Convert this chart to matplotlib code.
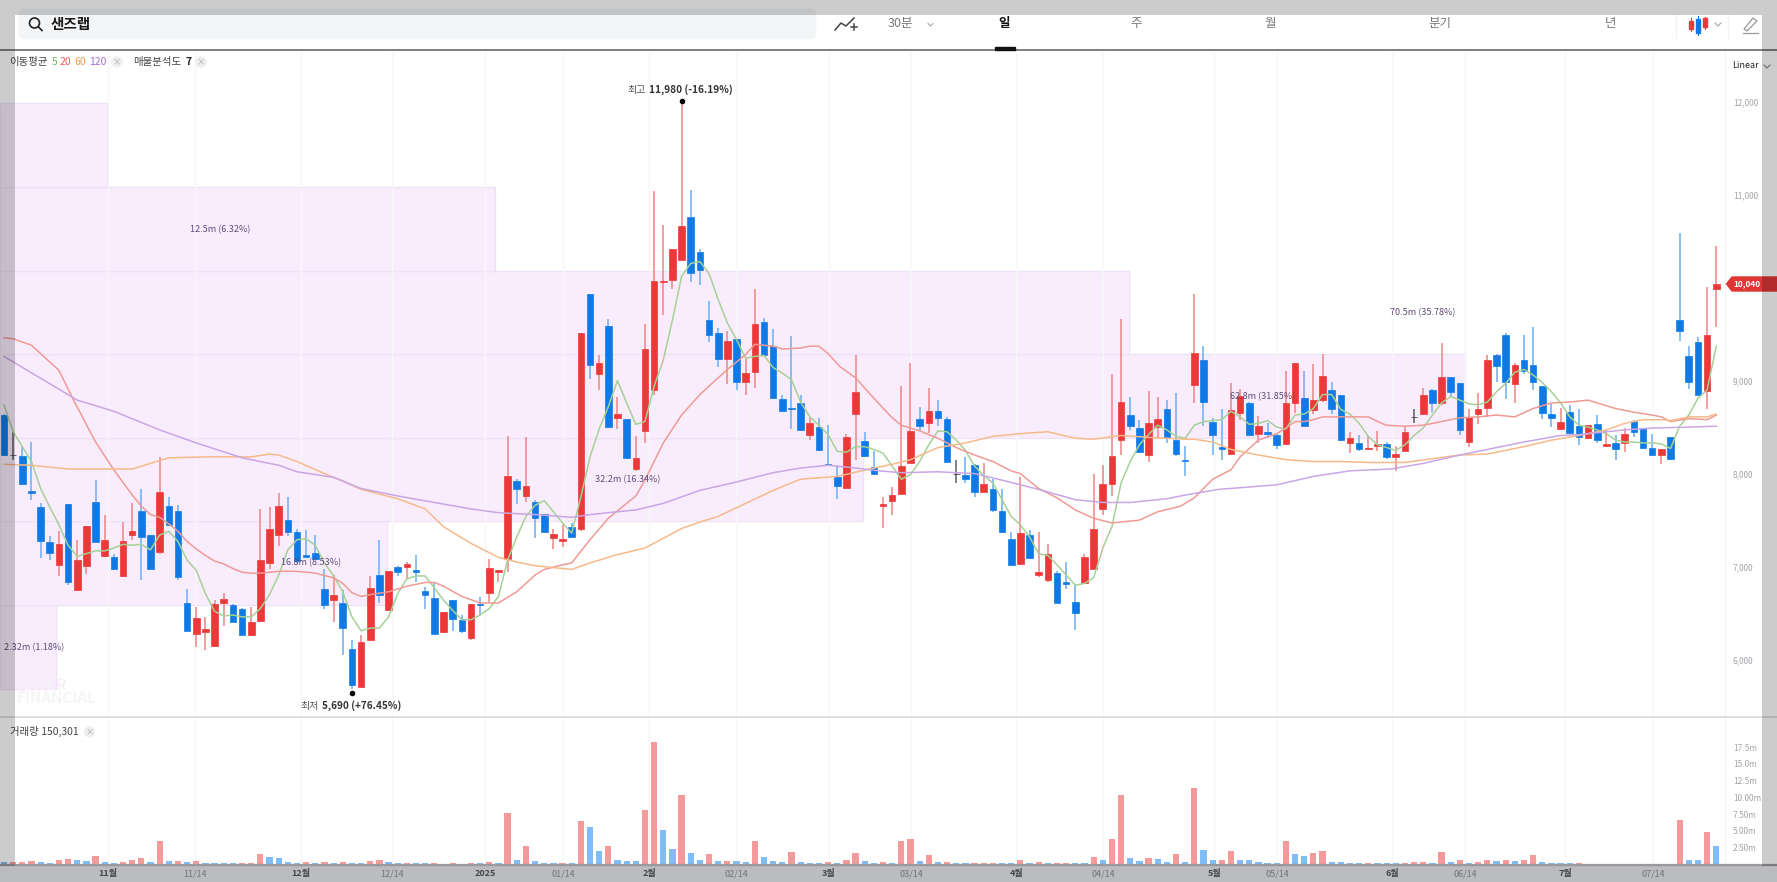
import matplotlib
matplotlib.use("Agg")
import matplotlib.pyplot as plt
from matplotlib.patches import Rectangle, Circle, FancyBboxPatch, Polygon

plt.rcParams["font.family"] = ["Noto Sans CJK KR", "DejaVu Sans"]

# candle values (won)
body_top = [
    8630, 8200, 8190, 7810, 7640, 7270, 7240, 7670, 7070, 7440,
    7700, 7290, 7100, 7280, 7380, 7600, 7340, 7800, 7650, 7600,
    6610, 6450, 6330, 6600, 6650, 6590, 6550, 6410, 7070, 7400,
    7650, 7500, 7370, 7130, 7150, 6760, 6700, 6610, 6110, 6190,
    6770, 6910, 6950, 7000, 7030, 6960, 6740, 6660, 6510, 6640,
    6430, 6600, 6600, 6990, 6960, 7970, 7920, 7870, 7700, 7570,
    7350, 7300, 7430, 9510, 9930, 9190, 9590, 8640, 8590, 8170,
    9340, 10070, 10070, 10420, 10660, 10760, 10380, 9650, 9510, 9430,
    9450, 9080, 9610, 9630, 9370, 8800, 8710, 8760, 8540, 8500,
    8100, 7960, 8390, 8880, 8350, 8070, 7670, 7770, 8080, 8460,
    8590, 8670, 8670, 8590, 8000, 7990, 8090, 7890, 7840, 7600,
    7300, 7360, 7340, 6940, 7140, 6930, 6830, 6620, 7100, 7410,
    7890, 8190, 8770, 8630, 8490, 8540, 8590, 8690, 8360, 8150,
    9300, 9220, 8560, 8290, 8680, 8830, 8760, 8510, 8450, 8420,
    8760, 9190, 8810, 8790, 9050, 8900, 8840, 8380, 8330, 8280,
    8320, 8320, 8210, 8450, 8610, 8850, 8900, 9040, 9040, 8970,
    8610, 8700, 9220, 9280, 9490, 9170, 9220, 9170, 8940, 8640,
    8550, 8660, 8510, 8520, 8530, 8320, 8330, 8430, 8570, 8490,
    8280, 8260, 8390, 9650, 9260, 9420, 9490, 10040,
]
body_bot = [
    8200, 8200, 7890, 7790, 7280, 7150, 7020, 6830, 6750, 7010,
    7270, 7110, 6970, 6900, 7340, 7320, 6980, 7160, 7450, 6890,
    6310, 6280, 6300, 6150, 6610, 6410, 6270, 6260, 6420, 7040,
    7340, 7370, 7060, 7100, 7080, 6590, 6640, 6340, 5730, 5710,
    6210, 6690, 6530, 6940, 7000, 6940, 6690, 6280, 6300, 6440,
    6310, 6230, 6590, 6720, 6940, 7080, 7830, 7760, 7520, 7370,
    7310, 7280, 7320, 7410, 9170, 9070, 8500, 8600, 8170, 8050,
    8460, 8900, 10060, 10080, 10300, 10160, 10190, 9490, 9230, 9230,
    8980, 8980, 9090, 9280, 8810, 8670, 8700, 8470, 8410, 8250,
    8090, 7870, 7850, 8640, 8190, 8000, 7650, 7710, 7780, 8110,
    8510, 8540, 8600, 8130, 8000, 7940, 7800, 7800, 7610, 7370,
    7020, 7030, 7090, 6910, 6860, 6610, 6810, 6500, 6820, 6970,
    7620, 7890, 8360, 8510, 8230, 8200, 8500, 8380, 8210, 8140,
    8950, 8770, 8410, 8270, 8210, 8650, 8420, 8430, 8430, 8310,
    8320, 8760, 8510, 8680, 8790, 8700, 8360, 8330, 8260, 8270,
    8300, 8180, 8180, 8240, 8610, 8640, 8760, 8760, 8880, 8470,
    8340, 8640, 8710, 9160, 8990, 8960, 9100, 8990, 8650, 8600,
    8480, 8440, 8390, 8380, 8360, 8300, 8270, 8330, 8450, 8280,
    8200, 8200, 8160, 9530, 8980, 8840, 8890, 9990,
]
wick_high = [
    8640, 8450, 8290, 8340, 7680, 7330, 7380, 7670, 7290, 7440,
    7930, 7560, 7140, 7480, 7680, 7830, 7340, 8180, 7750, 7660,
    6760, 6570, 6460, 6640, 6720, 6600, 6560, 6570, 7620, 7640,
    7790, 7750, 7410, 7390, 7340, 6970, 6910, 6750, 6210, 6260,
    6900, 7290, 6950, 7010, 7050, 7120, 6780, 6820, 6510, 6640,
    6480, 6600, 6670, 7080, 6960, 8400, 7940, 8390, 7720, 7570,
    7410, 7450, 7470, 9510, 9930, 9280, 9660, 8820, 8590, 8400,
    9610, 11040, 10670, 10420, 11980, 11050, 10410, 9860, 9570, 9530,
    9450, 9240, 9990, 9670, 9550, 8850, 9480, 8850, 8600, 8600,
    8520, 8080, 8430, 9270, 8450, 8240, 7750, 7860, 8940, 9190,
    8720, 8920, 8790, 8610, 8150, 8180, 8100, 8110, 7940, 7830,
    7370, 7960, 7390, 7370, 7240, 6950, 7050, 6800, 7140, 8000,
    8090, 9070, 9660, 8820, 8580, 8890, 8820, 8790, 8870, 8300,
    9930, 9370, 8600, 8700, 8970, 8910, 8770, 8620, 8540, 8430,
    9100, 9190, 9100, 9180, 9290, 8990, 8840, 8450, 8420, 8400,
    8460, 8340, 8300, 8510, 8700, 8920, 8910, 9400, 9040, 8970,
    8690, 8870, 9270, 9290, 9510, 9190, 9490, 9580, 8940, 8750,
    8710, 8740, 8700, 8520, 8630, 8470, 8420, 8490, 8580, 8490,
    8430, 8260, 8390, 10590, 9370, 9470, 10010, 10450,
]
wick_low = [
    8190, 8150, 7880, 7720, 7090, 7070, 6900, 6800, 6750, 6920,
    7270, 7100, 6960, 6890, 7290, 6860, 6970, 7140, 7450, 6860,
    6310, 6140, 6100, 6140, 6360, 6410, 6260, 6250, 6410, 6970,
    7220, 7330, 7040, 7090, 7070, 6540, 6410, 6050, 5690, 5710,
    6210, 6610, 6520, 6900, 6870, 6840, 6550, 6280, 6290, 6310,
    6290, 6210, 6480, 6620, 6840, 6940, 7670, 7700, 7310, 7370,
    7190, 7210, 7320, 7380, 9020, 8900, 8490, 8480, 8160, 8030,
    8330, 8840, 9700, 9990, 10300, 10060, 10030, 9410, 9150, 8960,
    8900, 8850, 8920, 9270, 8810, 8660, 8480, 8460, 8360, 8240,
    8080, 7730, 7850, 8150, 8180, 7990, 7420, 7560, 7780, 8110,
    8460, 8440, 8510, 8120, 7900, 7900, 7750, 7800, 7590, 7360,
    7010, 7020, 7080, 6890, 6840, 6610, 6760, 6320, 6820, 6970,
    7560, 7760, 8200, 8470, 8220, 8130, 8370, 8330, 8190, 7970,
    8760, 8510, 8200, 8150, 8210, 8580, 8410, 8330, 8380, 8270,
    8320, 8650, 8510, 8640, 8770, 8640, 8350, 8220, 8240, 8260,
    8240, 8160, 8030, 8240, 8540, 8630, 8660, 8740, 8830, 8410,
    8290, 8530, 8610, 8990, 8800, 8760, 9070, 8900, 8590, 8500,
    8470, 8430, 8310, 8380, 8330, 8290, 8150, 8230, 8390, 8270,
    8200, 8100, 8150, 9430, 8910, 8840, 8700, 9580,
]
candle_dir = (
    "bkbbbbrbrr" "brbrrbbrbb" "brrrrbbrrr" "rbbbbbrbbr" "rbrbrbbbrb"
    "brbrrrbrbb" "rrbrbrbrbr" "rrrrrbbbbr" "brrbbbbbrb" "bbrrbbrrrr"
    "brbbkbbrbb" "brbrrbbbrr" "rrrbbrrbbb" "rbbbrrbrbb" "rrbrrbbrbr"
    "rbrrkrbrbb" "rrrbbrbbbb" "rbbrbrbrbb" "brbbbbrr"
)

ma5 = [
    8740, 8450, 8290, 8130, 7840, 7640, 7450, 7230, 7110, 7140,
    7170, 7170, 7200, 7240, 7230, 7240, 7180, 7340, 7380, 7270,
    7070, 6960, 6710, 6520, 6470, 6480, 6460, 6460, 6550, 6700,
    6910, 7180, 7290, 7300, 7230, 7040, 6900, 6730, 6460, 6310,
    6340, 6340, 6460, 6710, 6870, 6900, 6900, 6770, 6640, 6530,
    6430, 6430, 6480, 6550, 6680, 7070, 7320, 7540, 7660, 7710,
    7590, 7470, 7360, 7750, 8180, 8480, 8720, 9000, 8760, 8530,
    8560, 8940, 9220, 9650, 10120, 10260, 10280, 10150, 9870, 9620,
    9440, 9240, 9260, 9270, 9140, 9080, 9010, 8770, 8610, 8520,
    8420, 8240, 8230, 8290, 8290, 8260, 8220, 8080, 7940, 7990,
    8130, 8310, 8460, 8450, 8360, 8250, 8080, 7980, 7900, 7720,
    7540, 7450, 7320, 7140, 7120, 7020, 6910, 6800, 6820, 6880,
    7200, 7430, 7900, 8130, 8310, 8420, 8520, 8470, 8400, 8380,
    8520, 8560, 8570, 8580, 8670, 8610, 8530, 8540, 8570, 8500,
    8480, 8630, 8640, 8700, 8850, 8850, 8690, 8640, 8540, 8400,
    8310, 8280, 8250, 8310, 8410, 8490, 8630, 8760, 8830, 8790,
    8750, 8740, 8770, 8880, 8970, 9090, 9120, 9060, 8980, 8880,
    8760, 8610, 8520, 8500, 8470, 8430, 8360, 8340, 8340, 8330,
    8330, 8320, 8270, 8510, 8630, 8810, 8900, 9370,
]
ma20_idx = [
    0, 1, 3, 6, 7.6, 10, 12, 14, 15, 16, 17, 18, 19, 20, 21, 22, 23, 24, 25, 26,
    27, 28, 30, 32, 34, 36, 37, 38, 39, 40, 42, 44, 46, 47, 48, 50, 52, 54, 56, 58,
    59, 61, 62, 64, 66, 69, 70, 72, 74, 76, 79, 81, 82, 84, 85, 87, 88, 89, 90, 91.3,
    93, 95, 97, 98, 100, 102, 104, 106, 108, 110, 111, 113, 115, 117, 119, 121, 123, 124, 126, 128.5,
    130, 132, 134, 135, 137, 139, 140, 141, 142, 143, 144, 146, 149, 150, 151, 153, 155, 157, 159, 161,
    163, 165, 167, 169, 171, 173, 174, 176, 178, 180, 181, 182, 184, 186, 187,
]
ma20_val = [
    9460, 9450, 9380, 9110, 8790, 8340, 8040, 7770, 7650, 7560, 7530, 7460, 7380, 7270, 7190, 7120, 7060, 7030, 6980, 6940,
    6930, 6930, 6950, 6950, 6930, 6880, 6820, 6720, 6680, 6700, 6730, 6790, 6830, 6830, 6790, 6680, 6610, 6610, 6730, 6910,
    6970, 7020, 7040, 7290, 7520, 7760, 7930, 8330, 8630, 8850, 9120, 9280, 9390, 9370, 9340, 9350, 9370, 9370, 9290, 9150,
    9030, 8810, 8600, 8520, 8460, 8380, 8280, 8200, 8130, 8030, 8000, 7840, 7740, 7610, 7520, 7470, 7490, 7500, 7590, 7650,
    7740, 7940, 8040, 8180, 8360, 8430, 8490, 8560, 8560, 8580, 8610, 8610, 8610, 8560, 8520, 8510, 8520, 8560, 8600, 8610,
    8630, 8610, 8700, 8760, 8770, 8790, 8760, 8700, 8660, 8630, 8610, 8560, 8590, 8580, 8630,
]
ma60_idx = [
    0, 3, 7, 12, 14, 16, 18, 22, 25, 27, 29, 30, 32, 35, 37, 39, 43, 46, 48, 51,
    54, 56, 58, 62, 64, 67, 70, 74, 76, 78, 81, 84, 87, 91, 95, 97, 99, 102, 105, 108,
    111, 114, 117, 119, 122, 125, 129, 130, 132, 134, 137, 140, 143, 146, 149, 153, 156, 159, 162, 166,
    169, 172, 175, 177, 179, 181, 182, 184, 186, 187,
]
ma60_val = [
    8100, 8090, 8050, 8050, 8050, 8110, 8170, 8180, 8180, 8180, 8210, 8200, 8130, 8000, 7920, 7830, 7730, 7620, 7430, 7250,
    7100, 7050, 7010, 6970, 7040, 7130, 7200, 7410, 7480, 7540, 7680, 7820, 7940, 7970, 8060, 8100, 8150, 8280, 8330, 8400,
    8430, 8450, 8380, 8370, 8410, 8390, 8370, 8370, 8340, 8260, 8200, 8150, 8130, 8130, 8120, 8120, 8160, 8200, 8210, 8290,
    8360, 8410, 8470, 8540, 8580, 8580, 8570, 8610, 8610, 8640,
]
ma120_idx = [
    0, 8, 12, 17, 21, 26, 30, 32, 36, 39, 43, 47, 51, 54, 58, 62, 64, 69, 72, 76,
    80, 84, 87, 90, 93, 95.6, 98, 102, 106, 109, 113, 117, 120, 123, 127, 129, 132.6, 139, 143, 147,
    151.5, 155, 159, 162, 166, 170, 172, 177, 180, 184, 187,
]
ma120_val = [
    9260, 8790, 8670, 8470, 8330, 8170, 8090, 8020, 7960, 7840, 7760, 7690, 7620, 7580, 7560, 7530, 7560, 7610, 7680, 7820,
    7910, 8010, 8060, 8090, 8060, 8030, 8010, 8020, 8000, 7930, 7830, 7720, 7690, 7690, 7730, 7770, 7830, 7880, 7970, 8030,
    8050, 8110, 8200, 8260, 8340, 8410, 8420, 8470, 8490, 8500, 8510,
]

# volume in millions of shares
volume = [
    0.35, 0.35, 0.35, 0.45, 0.3, 0.25, 0.6, 0.75, 0.6, 0.45,
    1.3, 0.3, 0.2, 0.35, 0.6, 1.0, 0.3, 3.45, 0.45, 0.45,
    0.35, 0.45, 0.2, 0.2, 0.2, 0.2, 0.2, 0.2, 1.55, 1.1,
    1.0, 0.35, 0.2, 0.35, 0.2, 0.35, 0.2, 0.35, 0.2, 0.2,
    0.45, 0.6, 0.35, 0.2, 0.2, 0.2, 0.2, 0.2, 0.1, 0.2,
    0.1, 0.2, 0.2, 0.35, 0.2, 7.6, 0.6, 2.8, 0.45, 0.2,
    0.2, 0.2, 0.2, 6.5, 5.6, 2.05, 2.75, 0.6, 0.45, 0.45,
    8.1, 18.2, 5.15, 2.3, 10.3, 1.65, 0.6, 1.55, 0.45, 0.45,
    0.45, 0.3, 3.55, 1.1, 0.45, 0.3, 1.8, 0.3, 0.2, 0.2,
    0.35, 0.2, 0.7, 1.65, 0.45, 0.2, 0.35, 0.2, 3.45, 3.85,
    0.45, 1.4, 0.3, 0.35, 0.2, 0.2, 0.2, 0.2, 0.2, 0.2,
    0.2, 0.6, 0.2, 0.35, 0.2, 0.2, 0.2, 0.2, 0.2, 1.1,
    0.7, 3.85, 10.4, 1.0, 0.45, 1.0, 0.85, 0.3, 1.55, 0.3,
    11.4, 2.15, 0.65, 0.7, 2.05, 0.7, 0.6, 0.3, 0.15, 0.15,
    3.55, 1.5, 1.25, 1.65, 1.95, 0.4, 0.3, 0.15, 0.15, 0.15,
    0.15, 0.15, 0.15, 0.15, 0.3, 0.3, 0.15, 1.8, 0.3, 0.6,
    0.15, 0.3, 0.7, 0.45, 0.6, 0.45, 0.7, 1.4, 0.3, 0.15,
    0.15, 0.15, 0.15, 0, 0, 0, 0, 0, 0, 0,
    0, 0, 0, 6.55, 0.7, 0.6, 4.8, 2.75,
]
volume_dir = (
    "brrrbbrrbb" "rbbrrrbrbr" "brbbbbrrrb" "bbbrbrbrbb" "rrbbrbbrrr"
    "brbrbrbrbb" "brbrbbrbbb" "rrbbrbbrbr" "bbrbbbrbbb" "rbrrbbrbrr"
    "brbrbbrrrb" "brbrbrrbbr" "brrbbrbbrb" "rbbrrbbbbb" "rbbrrbbbbr"
    "bbbrrrbrbr" "brrbrbrrbb" "bbrbbbbbbb" "bbbrbbrb"
)

# volume by price rows
profile_edges = [5690, 6589, 7487, 8386, 9284, 10183, 11081, 11980]
profile_end = [5.65, 41.8, 93.8, 159.6, 122.9, 53.6, 11.3]

month_pos = [11.36, 20.86, 32.44, 42.38, 52.54, 61.06, 70.45, 79.96, 90.1, 99.07,
             110.54, 120.04, 132.2, 139.05, 151.6, 159.6, 170.5, 180.1]
month_lab = ["11월", "11/14", "12월", "12/14", "2025", "01/14", "2월", "02/14", "3월", "03/14",
             "4월", "04/14", "5월", "05/14", "6월", "06/14", "7월", "07/14"]
# the 10,000 label sits behind the last price tag
price_ticks = [6000, 7000, 8000, 9000, 11000, 12000]
vol_ticks = [2.5, 5, 7.5, 10, 12.5, 15, 17.5]
vol_tick_lab = ["2.50m", "5.00m", "7.50m", "10.00m", "12.5m", "15.0m", "17.5m"]

W, H = 1777, 882
RED, BLUE = "#ec3838", "#0f7ae5"
WICK = {"r": "#f08c8c", "b": "#74b4f4", "k": "#6a6a6a"}
BODY = {"r": RED, "b": BLUE, "k": "#333333"}
VOLC = {"r": "#f59a9a", "b": "#80bcf7"}

fig = plt.figure(figsize=(W / 100, H / 100), dpi=100)
fig.add_artist(Rectangle((0, 0), 1, 16 / H, transform=fig.transFigure, color="#e9ecf1", zorder=-1))

x_lim = (-0.437, 187.9)
ax = fig.add_axes([0, 1 - 716.7 / H, 1724.5 / W, 666.7 / H])
ax.set_xlim(*x_lim)
ax.set_ylim(5387, 12554)

idx = list(range(len(body_top)))
for i in range(len(profile_end)):
    ax.barh(profile_edges[i], profile_end[i] - x_lim[0], height=profile_edges[i + 1] - profile_edges[i],
            left=x_lim[0], align="edge", color="#f9edfd", edgecolor="#efe2f6", linewidth=1, zorder=1)

ax.vlines(idx, wick_low, wick_high, colors=[WICK[d] for d in candle_dir], linewidth=1.2, zorder=3)
ax.bar(idx, [t - b for t, b in zip(body_top, body_bot)], bottom=body_bot, width=0.72,
       color=[BODY[d] for d in candle_dir], edgecolor=[BODY[d] for d in candle_dir], linewidth=0.5, zorder=4)

ax.plot(idx, ma5, color="#a5d196", linewidth=1.1, zorder=5)
ax.plot(ma20_idx, ma20_val, color="#f09a94", linewidth=1.1, zorder=5)
ax.plot(ma60_idx, ma60_val, color="#f6ba8a", linewidth=1.1, zorder=5)
ax.plot(ma120_idx, ma120_val, color="#c9a6e4", linewidth=1.1, zorder=5)

# high / low dots
ax.plot([74], [wick_high[74] + 30], "o", color="black", markersize=3, zorder=6)
ax.plot([38], [wick_low[38] - 45], "o", color="black", markersize=3, zorder=6)

ax.set_xticks(month_pos)
ax.tick_params(axis="x", length=0, labelbottom=False)
ax.grid(axis="x", color="#f7f7f9", linewidth=1)
ax.yaxis.tick_right()
ax.set_yticks(price_ticks)
ax.set_yticklabels([f"{p:,}" for p in price_ticks])
ax.tick_params(axis="y", length=0, pad=6, labelsize=6, labelcolor="#a2a5a9")
for s in ["top", "left", "bottom"]:
    ax.spines[s].set_visible(False)
ax.spines["right"].set_color("#f4f4f6")

vax = fig.add_axes([0, 1 - 864.3 / H, 1724.5 / W, 147.6 / H])
vax.set_xlim(*x_lim)
vax.set_ylim(0, 22.05)
vax.bar(idx, volume, width=0.68, color=[VOLC[d] for d in volume_dir], zorder=3)
vax.set_xticks(month_pos)
vax.set_xticklabels(month_lab)
vax.tick_params(axis="x", length=0, pad=3.5, labelsize=6.5, labelcolor="#8d9095")
for lab in vax.get_xticklabels():
    if "/" not in lab.get_text():
        lab.set_fontweight("bold")
        lab.set_color("#55585c")
vax.grid(axis="x", color="#f7f7f9", linewidth=1)
vax.yaxis.tick_right()
vax.set_yticks(vol_ticks)
vax.set_yticklabels(vol_tick_lab)
vax.tick_params(axis="y", length=0, pad=6, labelsize=6, labelcolor="#a2a5a9")
for s in ["top", "left", "bottom"]:
    vax.spines[s].set_visible(False)
vax.spines["right"].set_color("#f4f4f6")

# page furniture, in pixels
ui = fig.add_axes([0, 0, 1, 1], zorder=10)
ui.set_xlim(0, W)
ui.set_ylim(H, 0)
ui.axis("off")

ui.add_patch(FancyBboxPatch((20, 10), 795, 28, boxstyle="round,pad=0,rounding_size=5", color="#f3f5f7", linewidth=2))
ui.add_patch(Circle((34.5, 23), 5, fill=False, edgecolor="#222222", linewidth=1.2))
ui.plot([38.2, 42], [26.7, 30.5], color="#222222", linewidth=1.2)
ui.text(51, 24, "샌즈랩", fontsize=10.5, fontweight="bold", color="#1a1a1a", va="center")

# chart type icon
ui.plot([835, 841, 846, 854], [30, 23, 26, 18], color="#444444", linewidth=1.1)
ui.plot([851, 857], [27, 27], color="#444444", linewidth=1.1)
ui.plot([854, 854], [24, 30], color="#444444", linewidth=1.1)
for label, x, weight, col in [("30분", 900, "normal", "#777777"), ("일", 1004, "bold", "#111111"),
                              ("주", 1136, "normal", "#777777"), ("월", 1270, "normal", "#777777"),
                              ("분기", 1440, "normal", "#777777"), ("년", 1610, "normal", "#777777")]:
    ui.text(x, 23.5, label, fontsize=9, fontweight=weight, color=col, ha="center", va="center")
ui.add_patch(Rectangle((995, 47), 20, 2.5, color="#111111", zorder=3))
ui.plot([928, 930.5, 933], [23.5, 26, 23.5], color="#aaaaaa", linewidth=0.8)
ui.plot([1715, 1718, 1721], [23, 26, 23], color="#aaaaaa", linewidth=0.8)
ui.plot([1676, 1676], [15, 38], color="#f3f3f3", linewidth=1)
ui.plot([1728, 1728], [15, 38], color="#f3f3f3", linewidth=1)

# candle icon
ui.plot([1691, 1691], [18, 31], color=RED, linewidth=0.8)
ui.add_patch(Rectangle((1689, 21), 4, 8, color=RED))
ui.plot([1698, 1698], [16, 35], color=BLUE, linewidth=0.8)
ui.add_patch(Rectangle((1696, 19), 4, 14, color=BLUE))
ui.plot([1705, 1705], [17, 29], color=RED, linewidth=0.8)
ui.add_patch(Rectangle((1703, 18), 4, 9, color=RED))

# pencil icon
ui.add_patch(Polygon([[1744, 29], [1753, 18], [1757, 21], [1747, 31]], closed=True, fill=False, edgecolor="#999999", linewidth=0.9))
ui.plot([1743, 1758], [33, 33], color="#999999", linewidth=0.9)

ui.plot([0, W], [49.5, 49.5], color="#5c5c5c", linewidth=1.1)
ui.plot([0, W], [716.7, 716.7], color="#d9dce1", linewidth=1.3)
ui.plot([0, W], [865, 865], color="#9a9a9a", linewidth=1.6)

ui.text(9.5, 62, "이동평균", fontsize=7.5, color="#444444", va="center")
ui.text(52, 62, "5", fontsize=7.5, color="#6cb65a", va="center")
ui.text(60, 62, "20", fontsize=7.5, color="#e4645c", va="center")
ui.text(74.6, 62, "60", fontsize=7.5, color="#ef9a44", va="center")
ui.text(89.5, 62, "120", fontsize=7.5, color="#a070d4", va="center")
ui.text(133, 62, "매물분석도", fontsize=7.5, color="#444444", va="center")
ui.text(185, 62, "7", fontsize=7.5, fontweight="bold", color="#222222", va="center")
ui.text(9.5, 731.7, "거래량 150,301", fontsize=7.5, color="#444444", va="center")
for x, y in [(117, 62), (201, 62), (89.5, 731.7)]:
    ui.add_patch(Circle((x, y), 5, color="#efefef"))
    ui.text(x, y, "×", fontsize=6, color="#aaaaaa", ha="center", va="center")

ui.text(1732, 65, "Linear", fontsize=6.5, color="#222222", va="center")
ui.plot([1764, 1767, 1770], [65, 68, 65], color="#888888", linewidth=0.8)

# volume profile labels
for txt, x, y in [("12.5m (6.32%)", 220, 229.7), ("2.32m (1.18%)", 34, 647.7), ("16.8m (8.53%)", 311, 563),
                  ("32.2m (16.34%)", 628, 480), ("62.8m (31.85%)", 1263, 396.7), ("70.5m (35.78%)", 1423, 313)]:
    ui.text(x, y, txt, fontsize=6.5, color="#5f4a78", ha="center", va="center")

ui.text(646, 90, "최고", fontsize=7.2, color="#555555", ha="right", va="center")
ui.text(648.6, 90, "11,980 (-16.19%)", fontsize=7.2, fontweight="bold", color="#333333", va="center")
ui.text(318.5, 705.7, "최저", fontsize=7.2, color="#555555", ha="right", va="center")
ui.text(321.5, 705.7, "5,690 (+76.45%)", fontsize=7.2, fontweight="bold", color="#333333", va="center")

ui.text(17, 685, "NAVER", fontsize=11, fontweight="bold", color="#f6f0f8", va="center")
ui.text(17, 698, "FINANCIAL", fontsize=11, fontweight="bold", color="#f5f5f5", va="center")

# last price tag
ui.add_patch(Polygon([[1726.5, 284], [1732, 277], [W, 277], [W, 291], [1732, 291]], closed=True, color="#e03636"))
ui.text(1733, 284, "10,040", fontsize=6, fontweight="bold", color="white", va="center")

# translucent frame on top of everything
frame = dict(color="black", alpha=0.2, linewidth=0, zorder=20)
ui.add_patch(Rectangle((0, 0), W, 15, **frame))
ui.add_patch(Rectangle((0, 866), W, 16, **frame))
ui.add_patch(Rectangle((0, 15), 15, 851, **frame))
ui.add_patch(Rectangle((1762, 15), 15, 851, **frame))

plt.savefig("out.png", dpi=100)
plt.close()
